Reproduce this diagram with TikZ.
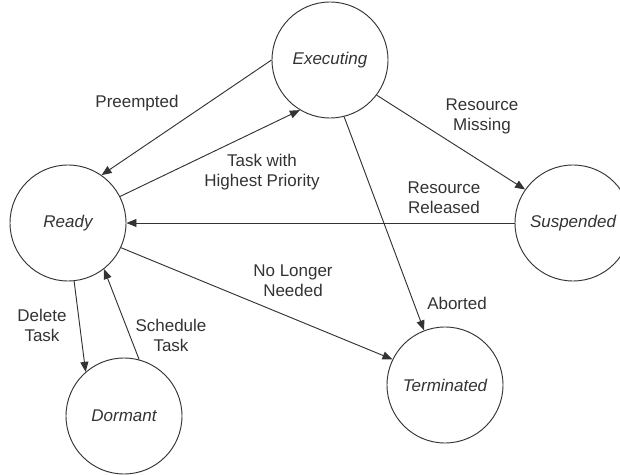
\documentclass[tikz,border=0pt]{standalone}
\usepackage{fontspec}
\setmainfont{Liberation Sans}
\usetikzlibrary{arrows.meta}
\definecolor{ink}{HTML}{333333}
\tikzset{
  state/.style={circle, draw=ink, line width=0.8pt, minimum size=34.8mm, inner sep=0pt,
    font=\fontsize{14.5}{17}\selectfont\itshape, text=ink},
  trans/.style={draw=ink, line width=0.8pt, -{Triangle[length=3mm, width=2.4mm]}},
  lbl/.style={align=center, font=\fontsize{14.5}{17}\selectfont, text=ink, inner sep=0pt}
}
\begin{document}
\begin{tikzpicture}[x=0.3mm,y=-0.3mm]
  \useasboundingbox (0,0) rectangle (620,475);
  \clip (0,0) rectangle (620,475);
  % states
  \node[state] (exec) at (330,60) {Executing};
  \node[state] (ready) at (68,223) {Ready};
  \node[state] (susp) at (573,223) {Suspended};
  \node[state] (term) at (445,385) {Terminated};
  \node[state] (dorm) at (124,416) {Dormant};
  % transitions
  \draw[trans] (exec.180) -- (ready.55);
  \draw[trans] (ready.27) -- (exec.239);
  \draw[trans] (exec.323) -- (susp.145);
  \draw[trans] (susp) -- (ready);
  \draw[trans] (exec.284) -- (term.111);
  \draw[trans] (ready.335) -- (term.154);
  \draw[trans] (ready.276) -- (dorm.131);
  \draw[trans] (dorm.75) -- (ready.308);
  % labels
  \node[lbl] (preempt) at (137,103) {Preempted};
  \node[lbl] (highest) at (262,172) {Task with\\Highest Priority};
  \node[lbl] (missing) at (482,116) {Resource\\Missing};
  \node[lbl] (released) at (444,198) {Resource\\Released};
  \node[lbl] (nolonger) at (293,281) {No Longer\\Needed};
  \node[lbl] (aborted) at (457,303) {Aborted};
  \node[lbl] (delete) at (42,325) {Delete\\Task};
  \node[lbl] (schedule) at (171,335) {Schedule\\Task};
\end{tikzpicture}
\end{document}
